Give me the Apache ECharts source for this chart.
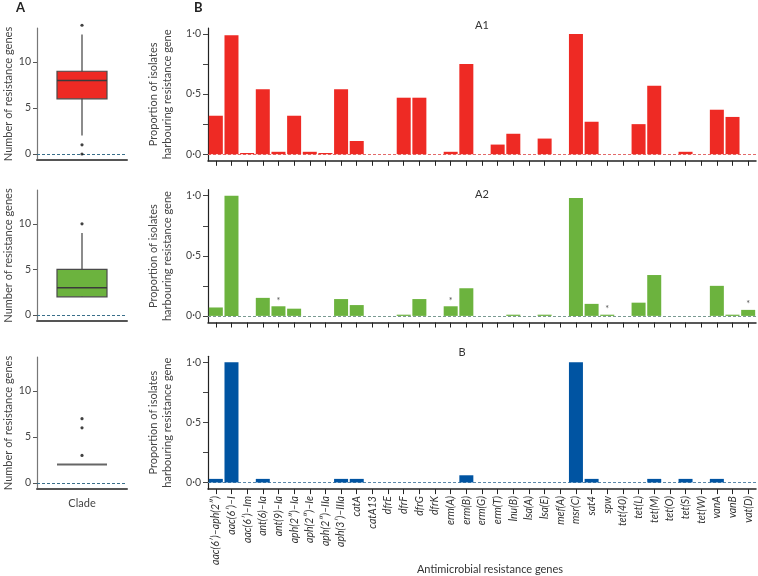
<!DOCTYPE html>
<html><head><meta charset="utf-8">
<script src="https://cdn.jsdelivr.net/npm/echarts@6/dist/echarts.min.js"></script>
<style>html,body{margin:0;padding:0;background:#fff}#c{width:758px;height:576px}</style>
</head><body><div id="c"></div>
<script>
const genes = ['aac(6′)–aph(2″)','aac(6′)–I','aac(6′)–Im','ant(6)–Ia','ant(9)–Ia','aph(2″)–Ia','aph(2″)–Ie','aph(2″)–IIa','aph(3′)–IIIa','catA','catA13','dfrE','dfrF','dfrG','dfrK','erm(A)','erm(B)','erm(G)','erm(T)','lnu(B)','lsa(A)','lsa(E)','mef(A)','msr(C)','sat4','spw','tet(40)','tet(L)','tet(M)','tet(O)','tet(S)','tet(W)','vanA','vanB','vat(D)'];
const a1Values = [0.32,0.99,0.01,0.54,0.02,0.32,0.02,0.01,0.54,0.11,0,0,0.47,0.47,0,0.02,0.75,0,0.08,0.17,0,0.13,0,1.0,0.27,0,0,0.25,0.57,0,0.02,0,0.37,0.31,0];
const a2Values = [0.07,1.0,0,0.15,0.08,0.06,0,0,0.14,0.09,0,0,0.01,0.14,0,0.08,0.23,0,0,0.01,0,0.01,0,0.98,0.10,0.01,0,0.11,0.34,0,0,0,0.25,0.01,0.05];
const bValues = [0.03,1.0,0,0.03,0,0,0,0,0.03,0.03,0,0,0,0,0,0,0.06,0,0,0,0,0,0,1.0,0.03,0,0,0,0.03,0,0.03,0,0.03,0,0];
const a2Asterisk = ['ant(9)–Ia','erm(A)','spw','vat(D)'];
const boxCategory = ['Clade'];
const boxA1 = [2,6,8,9,13];
const boxA2 = [2,2,3,5,9];
const boxB = [2,2,2,2,2];
const outliersA1 = [14,1,0];
const outliersA2 = [10];
const outliersB = [7,6,3];
const barTickValues = [0,0.25,0.5,0.75,1];
const barLabelValues = [0,0.5,1];
const boxTickValues = [0,5,10];
const panelTitles = ['A1','A2','B'];

const FONT = 'Lato';
const chart = echarts.init(document.getElementById('c'), null, {renderer:'canvas'});

const boxTops = [28,190,357], boxHeights=[132,131,132];
const barTops = [28,189.7,356.3], barHeight=132.8;
const grids = [], xAxes = [], yAxes = [], series = [];

function fmtDot(v){ return v.toFixed(1).replace('.', '·'); }

// box panels
const boxSets = [
  {stats: boxA1, out: outliersA1, fill:'#ee2a24', med:'#3a3a3a'},
  {stats: boxA2, out: outliersA2, fill:'#6cb33e', med:'#3a3a3a'},
  {stats: boxB, out: outliersB, fill:'none', med:'#666'}
];
boxSets.forEach((b,i)=>{
  grids.push({left:37, width:90, top:boxTops[i], height:boxHeights[i]});
  xAxes.push({type:'category', gridIndex:i, data:boxCategory,
    axisLine:{show:true, onZero:false, lineStyle:{color:'#555', width:2}}, axisTick:{show:false},
    axisLabel:{show:i===2, fontFamily:FONT, fontSize:11, color:'#444', margin:9}});
  yAxes.push({type:'value', gridIndex:i, min:-0.65, max:13.7,
    name:'Number of resistance genes', nameLocation:'middle', nameGap:23, nameMoveOverlap:false,
    nameTextStyle:{fontFamily:FONT, fontSize:11, color:'#444'},
    splitLine:{show:false},
    axisLine:{show:true, lineStyle:{color:'#777', width:1.2}},
    axisTick:{show:true, length:4, customValues:boxTickValues, lineStyle:{color:'#555'}},
    axisLabel:{fontFamily:FONT, fontSize:10.5, color:'#444', margin:6, customValues:boxTickValues}});
  const fill=b.fill, med=b.med;
  series.push({type:'custom', xAxisIndex:i, yAxisIndex:i,
    data:[[0].concat(b.stats)],
    renderItem:function(params, api){
      const lo=api.coord([0, api.value(1)]), q1=api.coord([0, api.value(2)]),
            m=api.coord([0, api.value(3)]), q3=api.coord([0, api.value(4)]), hi=api.coord([0, api.value(5)]);
      const half = 25;
      const ch = [];
      ch.push({type:'line', shape:{x1:lo[0],y1:lo[1],x2:hi[0],y2:hi[1]}, style:{stroke:'#666', lineWidth:1.5}});
      if (fill!=='none') ch.push({type:'rect', shape:{x:q3[0]-half, y:q3[1], width:half*2, height:q1[1]-q3[1]}, style:{fill:fill, stroke:'#4a4a4a', lineWidth:1.2}});
      ch.push({type:'line', shape:{x1:m[0]-half,y1:m[1],x2:m[0]+half,y2:m[1]}, style:{stroke:med, lineWidth:fill==='none'?2:1.5}});
      return {type:'group', children:ch};
    }, z:3});
  series.push({type:'scatter', xAxisIndex:i, yAxisIndex:i, symbolSize:3.2, clip:false,
    itemStyle:{color:'#111'}, data:b.out.map(v=>[0,v]), z:4,
    markLine:{silent:true, symbol:'none', label:{show:false}, z:2,
      lineStyle:{type:[3,2], color:'#3a6f8a', width:1}, data:[{yAxis:0}]}});
});

// bar panels
const barSets = [
  {vals:a1Values, color:'#ee2a24', zero:'#e36a6a'},
  {vals:a2Values, color:'#6cb33e', zero:'#7a9a92'},
  {vals:bValues, color:'#0054a2', zero:'#5a88aa'}
];
barSets.forEach((b,j)=>{
  const gi = 3+j;
  grids.push({left:208, width:548, top:barTops[j], height:barHeight});
  xAxes.push({type:'category', gridIndex:gi, data:genes,
    axisLine:{show:true, onZero:false, lineStyle:{color:'#222', width:1.5}},
    axisTick:{show:true, alignWithLabel:true, length:5, lineStyle:{color:'#222'}},
    axisLabel:{show:j===2, rotate:90, interval:0, fontFamily:FONT, fontStyle:'italic', fontSize:10.5, color:'#333', margin:7}});
  yAxes.push({type:'value', gridIndex:gi, min:-0.055, max:1.05,
    name:'Proportion of isolates\nharbouring resistance gene', nameLocation:'middle', nameGap:34, nameMoveOverlap:false,
    nameTextStyle:{fontFamily:FONT, fontSize:11, color:'#444', lineHeight:14},
    splitLine:{show:false},
    axisLine:{show:true, lineStyle:{color:'#222', width:1.2}},
    axisTick:{show:true, length:5, customValues:barTickValues, lineStyle:{color:'#444'}},
    axisLabel:{fontFamily:FONT, fontSize:10.5, color:'#444', margin:7, customValues:barLabelValues, formatter:fmtDot}});
  series.push({type:'bar', xAxisIndex:gi, yAxisIndex:gi, barWidth:14,
    data:b.vals, itemStyle:{color:b.color},
    label:{show:j===1, position:'top', distance:1, fontSize:9, color:'#555', fontFamily:FONT,
      formatter:p=> (j===1 && a2Asterisk.indexOf(genes[p.dataIndex])>=0) ? '*' : ''},
    markLine:{silent:true, symbol:'none', label:{show:false}, z:1,
      lineStyle:{type:[3,2], color:b.zero, width:1}, data:[{yAxis:0}]}});
});

const graphics = [
  {type:'text', left:16, top:1, style:{text:'A', font:'bold 13px '+FONT, fill:'#222'}},
  {type:'text', left:194, top:1, style:{text:'B', font:'bold 13px '+FONT, fill:'#222'}},
  {type:'text', x:482, y:25, style:{text:panelTitles[0], font:'11px '+FONT, fill:'#333', align:'center', verticalAlign:'middle'}},
  {type:'text', x:482, y:194, style:{text:panelTitles[1], font:'11px '+FONT, fill:'#333', align:'center', verticalAlign:'middle'}},
  {type:'text', x:462, y:352, style:{text:panelTitles[2], font:'11px '+FONT, fill:'#333', align:'center', verticalAlign:'middle'}},
  {type:'text', x:490, y:569, style:{text:'Antimicrobial resistance genes', font:'11px '+FONT, fill:'#333', align:'center', verticalAlign:'middle'}}
];

chart.setOption({
  animation:false,
  textStyle:{fontFamily:FONT},
  grid:grids, xAxis:xAxes, yAxis:yAxes, series:series, graphic:graphics
});
</script></body></html>
